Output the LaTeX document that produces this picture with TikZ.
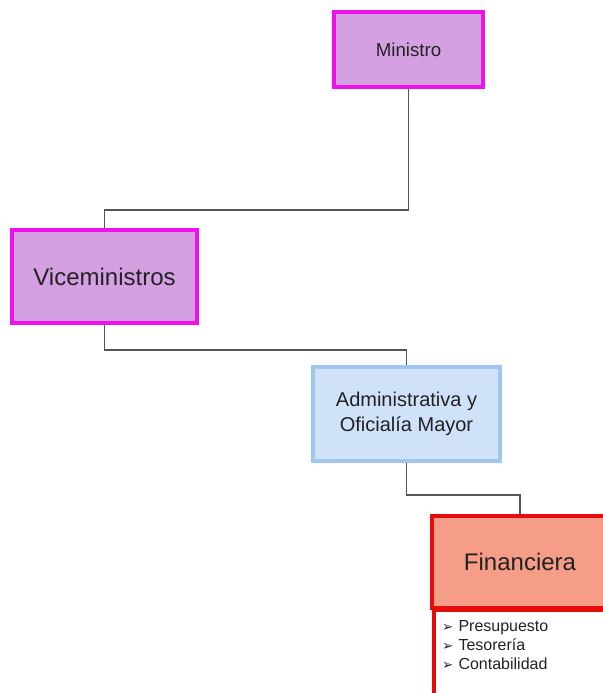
\documentclass[tikz,border=0pt]{standalone}
\usepackage{fontspec}
\setmainfont{Liberation Sans}
\newfontfamily\arrowfont{DejaVu Sans}
\definecolor{lilac}{HTML}{D4A0E2}
\definecolor{magb}{HTML}{EE11EE}
\definecolor{lblue}{HTML}{CFE2F9}
\definecolor{bblue}{HTML}{9FC6F0}
\definecolor{salmon}{HTML}{F69D88}
\definecolor{redb}{HTML}{E60C0C}
\definecolor{conn}{HTML}{555555}
\definecolor{txt}{HTML}{222222}
\newcommand{\bul}[1]{\hbox{{\arrowfont\fontsize{10}{10}\selectfont ➢}\hspace{4pt}#1}}
\tikzset{
  orgbox/.style={draw, line width=3pt, align=center, text=txt, inner sep=0pt},
  purplebox/.style={orgbox, fill=lilac, draw=magb},
  bluebox/.style={orgbox, fill=lblue, draw=bblue},
  redbox/.style={orgbox, fill=salmon, draw=redb},
  listbox/.style={orgbox, fill=white, draw=redb, align=left, anchor=north west},
  link/.style={draw=conn, line width=0.8pt}
}
\begin{document}
\begin{tikzpicture}[x=0.75pt,y=-0.75pt]
\useasboundingbox (0,0) rectangle (603,693);
\clip (0,0) rectangle (603,693);
\fill[white] (0,0) rectangle (603,693);
\node[purplebox, minimum width=149*0.75pt, minimum height=75*0.75pt, font=\fontsize{14}{17}\selectfont] (min) at (408.5,49.5) {Ministro};
\node[purplebox, minimum width=185*0.75pt, minimum height=93*0.75pt, font=\fontsize{18}{21}\selectfont] (vice) at (104.5,276.5) {Viceministros};
\node[bluebox, minimum width=187*0.75pt, minimum height=94*0.75pt, font=\fontsize{15}{18.5}\selectfont] (adm) at (406.5,414) {Administrativa y\\Oficialía Mayor};
\node[redbox, minimum width=176*0.75pt, minimum height=92*0.75pt, font=\fontsize{18}{21}\selectfont] (fin) at (520,562) {Financiera};
\node[listbox, minimum width=176*0.75pt, minimum height=100*0.75pt, text width=160*0.75pt, inner xsep=4pt, inner ysep=8pt, font=\fontsize{12}{14}\selectfont] (lst) at (432,608) {\vbox to 62pt{\bul{Presupuesto}\bul{Tesorería}\bul{Contabilidad}\vfill}};
\draw[link] (min.south) -- ++(0,121) -| (vice.north);
\draw[link] (vice.south) -- ++(0,25) -| (adm.north);
\draw[link] (adm.south) -- ++(0,32) -| (fin.north);
\end{tikzpicture}
\end{document}
